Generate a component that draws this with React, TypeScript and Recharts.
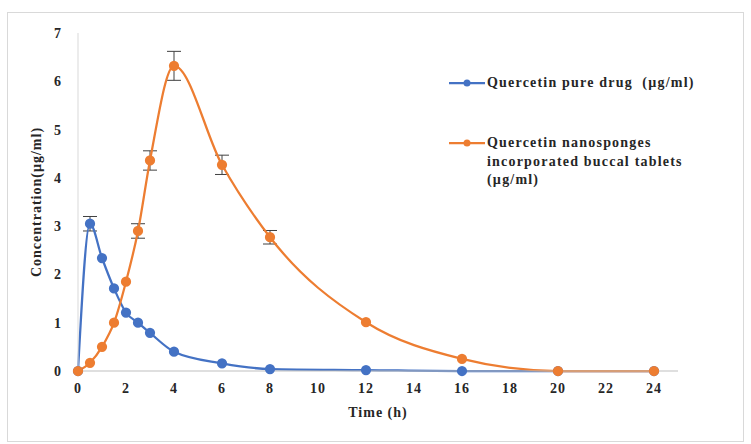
import React from 'react'
import {
  LineChart,
  Line,
  XAxis,
  YAxis,
  ErrorBar,
} from 'recharts'

const times = [0, 0.5, 1, 1.5, 2, 2.5, 3, 4, 6, 8, 12, 16, 20, 24]
const pureDrug = [0, 3.05, 2.34, 1.71, 1.21, 1.0, 0.79, 0.4, 0.16, 0.04, 0.02, 0, 0, 0]
const pureDrugErr = [0, 0.15, 0, 0, 0, 0, 0, 0, 0, 0, 0, 0, 0, 0]
const nanoTablets = [0, 0.17, 0.5, 1.0, 1.85, 2.9, 4.36, 6.32, 4.27, 2.77, 1.01, 0.25, 0, 0]
const nanoTabletsErr = [0, 0, 0, 0, 0, 0.15, 0.2, 0.3, 0.2, 0.14, 0, 0, 0, 0]
const xTicks = [0, 2, 4, 6, 8, 10, 12, 14, 16, 18, 20, 22, 24]
const yTicks = [0, 1, 2, 3, 4, 5, 6, 7]

const data = times.map((t, i) => ({
  t,
  pure: pureDrug[i],
  pureErr: pureDrugErr[i],
  nano: nanoTablets[i],
  nanoErr: nanoTabletsErr[i],
}))

const BLUE = '#4472C4'
const ORANGE = '#ED7D31'
const FONT = '"Liberation Serif", "Times New Roman", serif'
const tickStyle = { fill: '#262626', fontSize: 14, fontWeight: 700, fontFamily: FONT, letterSpacing: 1 }

function LegendBox() {
  const item = (color: string, lines: string[], top: number) => (
    <div style={{ position: 'absolute', left: 0, top, display: 'flex' }}>
      <svg width={38} height={14}>
        <line x1={0} y1={7} x2={36} y2={7} stroke={color} strokeWidth={2.25} />
        <circle cx={18} cy={7} r={3.5} fill={color} />
      </svg>
      <div
        style={{
          fontFamily: FONT,
          fontWeight: 700,
          fontSize: 14,
          letterSpacing: 1.2,
          lineHeight: '18.5px',
          color: '#262626',
          marginTop: -2,
        }}
      >
        {lines.map((l) => (
          <div key={l} style={{ whiteSpace: 'pre' }}>{l}</div>
        ))}
      </div>
    </div>
  )
  return (
    <div style={{ position: 'absolute', left: 449, top: 76, width: 295, height: 140 }}>
      {item(BLUE, ['Quercetin pure drug  (µg/ml)'], 0)}
      {item(ORANGE, ['Quercetin nanosponges', 'incorporated buccal tablets', '(µg/ml)'], 60)}
    </div>
  )
}

export default function App() {
  return (
    <div style={{ position: 'absolute', left: 0, top: 0, width: 751, height: 444, background: '#fff' }}>
      <div
        style={{
          position: 'absolute',
          left: 7,
          top: 12,
          width: 735,
          height: 428,
          border: '1px solid #d9d9d9',
        }}
      />
      <LineChart
        width={751}
        height={444}
        data={data}
        margin={{ top: 33, right: 73, left: 38, bottom: 43 }}
      >
        <XAxis
          dataKey="t"
          type="number"
          domain={[0, 25]}
          ticks={xTicks}
          tickLine={false}
          axisLine={{ stroke: '#bfbfbf' }}
          tick={tickStyle}
          tickMargin={6}
          height={30}
          label={{ value: 'Time (h)', position: 'insideBottom', offset: -16, style: tickStyle }}
        />
        <YAxis
          type="number"
          domain={[0, 7]}
          ticks={yTicks}
          tickLine={false}
          axisLine={{ stroke: '#d9d9d9' }}
          tick={tickStyle}
          width={40}
          tickMargin={10}
          label={{
            value: 'Concentration(µg/ml)',
            angle: -90,
            position: 'insideLeft',
            offset: -2,
            style: { ...tickStyle, textAnchor: 'middle' },
          }}
        />
        <Line
          dataKey="pure"
          type="monotone"
          stroke={BLUE}
          strokeWidth={2.25}
          dot={{ fill: BLUE, stroke: BLUE, r: 4 }}
          isAnimationActive={false}
        >
          <ErrorBar dataKey="pureErr" direction="y" width={7} stroke="#404040" strokeWidth={1} />
        </Line>
        <Line
          dataKey="nano"
          type="monotone"
          stroke={ORANGE}
          strokeWidth={2.25}
          dot={{ fill: ORANGE, stroke: ORANGE, r: 4 }}
          isAnimationActive={false}
        >
          <ErrorBar dataKey="nanoErr" direction="y" width={7} stroke="#404040" strokeWidth={1} />
        </Line>
      </LineChart>
      <LegendBox />
    </div>
  )
}
